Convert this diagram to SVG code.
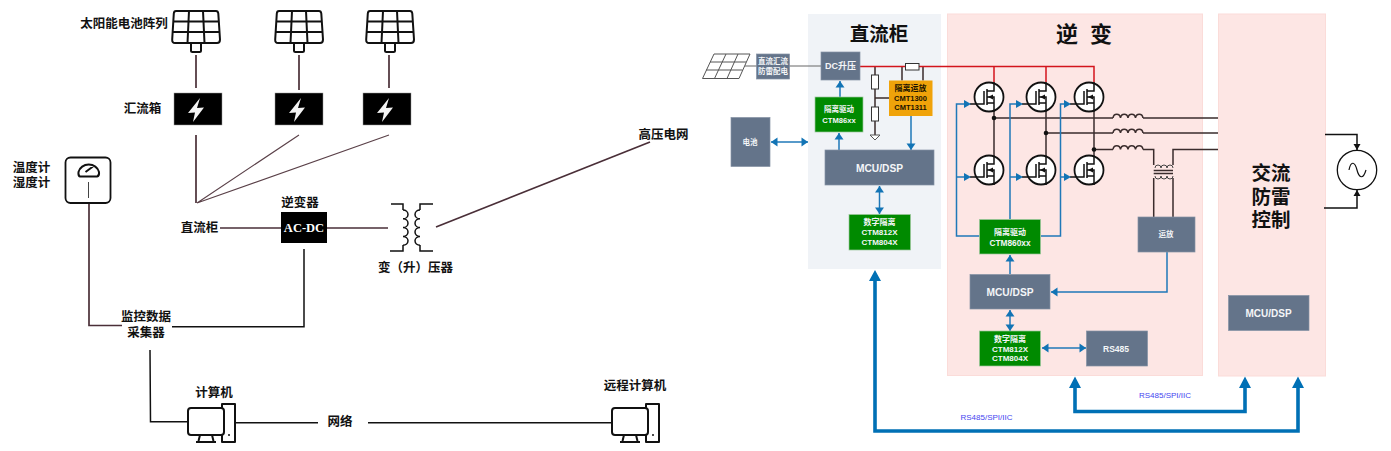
<svg xmlns="http://www.w3.org/2000/svg" xmlns:xlink="http://www.w3.org/1999/xlink" width="1391" height="451" viewBox="0 0 1391 451">
<style>
text{text-anchor:middle;dominant-baseline:central}
.lb{font:bold 12.500px "Liberation Serif","Noto Sans CJK SC",serif;fill:#111}
.acdc{font:bold 12.500px "Liberation Serif","Noto Sans CJK SC",serif;fill:#fff}
.ttl{font:bold 19.500px "Liberation Sans","Noto Sans CJK SC",sans-serif;fill:#111}
.ttl2{font:bold 22px "Liberation Sans","Noto Sans CJK SC",sans-serif;fill:#111}
.w{font-family:"Liberation Sans","Noto Sans CJK SC",sans-serif;font-weight:bold;fill:#f4f6f8}
.k{font-family:"Liberation Sans","Noto Sans CJK SC",sans-serif;font-weight:bold;fill:#1a1300}
.bus{font:8px "Liberation Sans",sans-serif;fill:#4545f0}
.grey{fill:#64748a;stroke:#8592a4;stroke-width:.7}
.green{fill:#008a00;stroke:#9cc79c;stroke-width:.7}
.wire{fill:none;stroke:#4a2f38;stroke-width:1.700}
.fine{fill:none;stroke:#5a4048;stroke-width:1.100}
.blk{fill:none;stroke:#111;stroke-width:1.500}
.dk{fill:none;stroke:#3a2c2c;stroke-width:1.500}
.blue{fill:none;stroke:#1f78b8;stroke-width:1.500}
.big{fill:none;stroke:#0070b5;stroke-width:3.600}
.ico{fill:none;stroke:#111;stroke-width:2;stroke-linejoin:round}
.thin{fill:none;stroke:#444;stroke-width:1}
.cab{fill:#fde6e4;stroke:#fbdcd9}
</style>
<defs>
<marker id="a" markerUnits="userSpaceOnUse" markerWidth="10" markerHeight="10" refX="8" refY="5" orient="auto-start-reverse"><path d="M1.500 0.500L8 5L1.500 9.500Z" fill="#1274b5"/></marker>
<marker id="ak" markerUnits="userSpaceOnUse" markerWidth="8" markerHeight="8" refX="7" refY="4" orient="auto"><path d="M1 .5L7 4L1 7.500Z" fill="#111"/></marker>
<symbol id="panel" overflow="visible"><path class="ico" d="M3 0H43Q45 0 45.300 2.500L47 28.500Q47 32 44 32H2Q-1 32 -.8 28.500L.8 2.500Q1 0 3 0ZM16 0L14.500 32M30 0L31.500 32M.4 10.500H45.800M-.2 21H46.500M18 32V39.500Q18 41 19.500 41H26.500Q28 41 28 39.500V32"/></symbol>
<symbol id="box" overflow="visible"><rect width="48" height="32" fill="#000" stroke="#999" stroke-width=".5"/><path d="M26 5L14 20L21 19.500L19 29L30 14.500L23 15Z" fill="#f4f4f4"/></symbol>
<symbol id="pc" overflow="visible"><path class="ico" d="M34 4V0H47V38H34V31M3 4H33Q36 4 36 7V28Q36 31 33 31H3Q0 31 0 28V7Q0 4 3 4ZM12 31L10.500 37M24 31L25.500 37M8 38H28"/><circle cx="41" cy="31" r="1" fill="#111"/></symbol>
<symbol id="fet" overflow="visible"><circle r="14.500" fill="#fff" stroke="#111" stroke-width="1.800"/><path fill="none" stroke="#111" stroke-width="1.500" d="M-19 7H-5V-6M-2 -8V8M-2 -6H5V-15M-2 6H5V15M-2 0H5V6"/><path d="M-1 0L4 -2.500V2.500Z" fill="#111"/></symbol>
<symbol id="coil" overflow="visible"><path class="dk" d="M0 0a3.800 4.500 0 0 1 7.500 0a3.800 4.500 0 0 1 7.500 0a3.800 4.500 0 0 1 7.500 0a3.800 4.500 0 0 1 7.500 0"/></symbol>
</defs>

<rect width="1391" height="451" fill="#fff"/>

<!-- cabinet backgrounds sit under all wiring -->
<g id="cabinets">
  <rect x="808" y="14" width="133" height="255" fill="#f0f3f7"/>
  <rect class="cab" x="947.500" y="14" width="255" height="361.500"/>
  <rect class="cab" x="1218.500" y="14" width="107" height="362"/>
</g>

<g id="connectors">
  <!-- plant-side wiring -->
  <path class="wire" d="M196 55V88M299 55V90M389 55V88M196 135V203"/>
  <path class="fine" d="M299 135L197 203M389 135L197 203"/>
  <path class="wire" d="M220 228H281M327 228H388M89 204V325.500H122"/>
  <path class="wire" stroke-width="2" d="M436 227L650 142"/>
  <path class="blk" d="M172 326.700H304V249M150 350L150.500 421.700H188M235 422.700H318M368 422.700H611"/>
  <!-- DC bus and sensing -->
  <path fill="none" stroke="#666" stroke-width="1" d="M745 66H821"/>
  <path class="dk" d="M875 67V75M875 89V107M875 121V135M875 98H889M902 66.500V80.500M923 66.500V80.500"/>
  <path fill="none" stroke="#d3141c" stroke-width="1.500" d="M860 66.500H1094V82M994 66.500V82M1046 66.500V82"/>
  <path class="dk" d="M994 112V155M1046 112V155M1094 112V155M994 118H1113M1143 118H1218M1046 133H1113M1143 133H1218M1094 149.500H1113M1143 149.500H1153.700V165M1153.700 178V217M1173 217V178M1173 165V149.500H1218"/>
  <path class="dk" d="M1153.700 170.600H1173M1153.700 173.400H1173"/>
  <path class="thin" d="M1155 168a3 3 0 0 1 6 0a3 3 0 0 1 6 0a3 3 0 0 1 6 0M1155 176a3 3 0 0 0 6 0a3 3 0 0 0 6 0a3 3 0 0 0 6 0"/>
  <!-- control links -->
  <path class="blue" marker-end="url(#a)" d="M840 97V81"/>
  <path class="blue" marker-end="url(#a)" d="M839 150V133"/>
  <path class="blue" marker-end="url(#a)" d="M911 116V150"/>
  <path class="blue" marker-start="url(#a)" marker-end="url(#a)" d="M771 142H808"/>
  <path class="blue" marker-start="url(#a)" marker-end="url(#a)" d="M879.500 186V214"/>
  <path class="blue" d="M979.500 236H956.500V104H965"/>
  <path class="blue" d="M956.500 177H965"/>
  <path class="blue" d="M1010 219V104H1017"/>
  <path class="blue" d="M1010 177H1017"/>
  <path class="blue" d="M1041 236H1060.500V104H1065"/>
  <path class="blue" d="M1060.500 177H1065"/>
  <path class="blue" marker-end="url(#a)" d="M1010 274V255"/>
  <path class="blue" marker-start="url(#a)" marker-end="url(#a)" d="M1010 310V331"/>
  <path class="blue" marker-start="url(#a)" marker-end="url(#a)" d="M1042 348H1086"/>
  <path class="blue" marker-end="url(#a)" d="M1167 252V292H1051"/>
  <!-- communication buses -->
  <path class="big" d="M875 280V431H1298V386M1075 386V411.500H1245V386"/>
  <path fill="#0070b5" d="M875 270L869 281H881ZM1075 376.500L1069 388H1081ZM1245 376.500L1239 388H1251ZM1298 376.500L1292 388H1304Z"/>
  <!-- AC output -->
  <path class="blk" marker-end="url(#ak)" d="M1325 134.500H1357V150"/>
  <path class="blk" marker-end="url(#ak)" d="M1324 208H1357V190"/>
</g>

<g id="pv-array">
  <use xlink:href="#panel" href="#panel" x="173" y="11"/>
  <use xlink:href="#panel" href="#panel" x="276" y="11"/>
  <use xlink:href="#panel" href="#panel" x="367" y="11"/>
  <text class="lb" x="124" y="24">太阳能电池阵列</text>
</g>
<g id="combiner">
  <use xlink:href="#box" href="#box" x="174" y="93"/>
  <use xlink:href="#box" href="#box" x="275" y="93"/>
  <use xlink:href="#box" href="#box" x="363" y="93"/>
  <text class="lb" x="142.500" y="109">汇流箱</text>
</g>
<g id="sensor">
  <rect x="65.500" y="157.500" width="45" height="45.500" rx="5" fill="#fff" stroke="#111" stroke-width="1.800"/>
  <path class="ico" stroke-width="1.500" d="M80 176.500H97Q99.500 176 99 172A10.500 9.500 0 0 0 78.500 172Q78 176 80 176.500ZM85.500 172L93 166.500"/>
  <path class="thin" stroke="#111" d="M88.500 182V198"/>
  <text class="lb" x="31.500" y="168">温度计</text>
  <text class="lb" x="31.500" y="183">湿度计</text>
</g>
<g id="dc-cabinet-label"><text class="lb" x="199.500" y="228">直流柜</text></g>
<g id="inverter-unit">
  <rect x="281" y="212" width="46" height="31" fill="#000"/>
  <text class="acdc" x="304" y="228">AC-DC</text>
  <text class="lb" x="300" y="203">逆变器</text>
</g>
<g id="transformer">
  <path class="blk" d="M391 204H403V210M403 245V251H390M433 204H420V210M420 245V251H433"/>
  <path class="blk" d="M403 210a5 4.400 0 0 1 0 8.800a5 4.400 0 0 1 0 8.800a5 4.400 0 0 1 0 8.800a5 4.400 0 0 1 0 8.800M420 210a5 4.400 0 0 0 0 8.800a5 4.400 0 0 0 0 8.800a5 4.400 0 0 0 0 8.800a5 4.400 0 0 0 0 8.800"/>
  <text class="lb" x="415.500" y="268">变（升）压器</text>
</g>
<g id="grid"><text class="lb" x="663.500" y="135">高压电网</text></g>
<g id="collector">
  <text class="lb" x="146" y="317">监控数据</text>
  <text class="lb" x="146" y="333">采集器</text>
</g>
<g id="local-pc">
  <use xlink:href="#pc" href="#pc" x="188" y="404"/>
  <text class="lb" x="214" y="393">计算机</text>
</g>
<g id="network"><text class="lb" x="340" y="422">网络</text></g>
<g id="remote-pc">
  <use xlink:href="#pc" href="#pc" x="612" y="404"/>
  <text class="lb" x="635" y="386">远程计算机</text>
</g>

<g id="pv-source">
  <path fill="#fff" stroke="#555" stroke-width="1" d="M714 54H750L739 78.500H702.500ZM726 54L714.500 78.500M738 54L727 78.500M710 62H746M706 70H742.500"/>
  <rect class="grey" x="756.500" y="54" width="33" height="25"/>
  <text class="w" font-size="7.500" x="773" y="61.500">直流汇流</text>
  <text class="w" font-size="7.500" x="773" y="71">防雷配电</text>
</g>
<g id="battery">
  <rect class="grey" x="731" y="117.500" width="39" height="49"/>
  <text class="w" font-size="7.500" x="750" y="142">电池</text>
</g>

<g id="dc-cabinet">
  <text class="ttl" x="879" y="34">直流柜</text>
  <rect class="grey" x="821" y="52" width="39" height="28"/>
  <text class="w" font-size="9" x="840.500" y="66">DC升压</text>
  <rect class="green" x="815" y="97" width="48" height="35"/>
  <text class="w" font-size="7.500" x="839" y="109.500">隔离驱动</text>
  <text class="w" font-size="7.600" x="839" y="120">CTM86xx</text>
  <rect x="871.500" y="75" width="7" height="14" fill="#fff" stroke="#333"/>
  <rect x="871.500" y="107" width="7" height="14" fill="#fff" stroke="#333"/>
  <path fill="#fff" stroke="#555" d="M870 135H880L875 140Z"/>
  <rect x="905.500" y="63.500" width="13.500" height="6.500" fill="#fff" stroke="#333"/>
  <rect x="889" y="80.500" width="43.500" height="35.500" fill="#f0a30a"/>
  <text class="k" font-size="8" x="910.500" y="88.500">隔离运放</text>
  <text class="k" font-size="7.500" x="910.500" y="98">CMT1300</text>
  <text class="k" font-size="7.500" x="910.500" y="107.500">CMT1311</text>
  <rect class="grey" x="825" y="150" width="109" height="35"/>
  <text class="w" font-size="10.200" x="879.500" y="168">MCU/DSP</text>
  <rect class="green" x="849" y="214.500" width="61.500" height="35.500"/>
  <text class="w" font-size="8" x="879.500" y="222.500">数字隔离</text>
  <text class="w" font-size="8" x="879.500" y="232.500">CTM812X</text>
  <text class="w" font-size="8" x="879.500" y="242">CTM804X</text>
</g>

<g id="inverter">
  <text class="ttl2" x="1067" y="34">逆</text>
  <text class="ttl2" x="1101" y="34">变</text>
  <use xlink:href="#fet" href="#fet" x="989" y="97"/>
  <use xlink:href="#fet" href="#fet" x="1041" y="97"/>
  <use xlink:href="#fet" href="#fet" x="1089" y="97"/>
  <use xlink:href="#fet" href="#fet" x="989" y="170"/>
  <use xlink:href="#fet" href="#fet" x="1041" y="170"/>
  <use xlink:href="#fet" href="#fet" x="1089" y="170"/>
  <!-- gate arrowheads, drawn above the gate leads -->
  <path fill="#1274b5" d="M964 100L971 104L964 108ZM964 173L971 177L964 181ZM1016 100L1023 104L1016 108ZM1016 173L1023 177L1016 181ZM1064 100L1071 104L1064 108ZM1064 173L1071 177L1064 181Z"/>
  <circle cx="994" cy="118" r="2.300" fill="#111"/>
  <circle cx="1046" cy="133" r="2.300" fill="#111"/>
  <circle cx="1094" cy="149.500" r="2.300" fill="#111"/>
  <use xlink:href="#coil" href="#coil" x="1113" y="118"/>
  <use xlink:href="#coil" href="#coil" x="1113" y="133"/>
  <use xlink:href="#coil" href="#coil" x="1113" y="149.500"/>
  <rect class="green" x="979.500" y="219.500" width="61" height="34.500"/>
  <text class="w" font-size="8" x="1010" y="232">隔离驱动</text>
  <text class="w" font-size="8.300" x="1010" y="242.500">CTM860xx</text>
  <rect class="grey" x="1138" y="217" width="57" height="35"/>
  <text class="w" font-size="7.500" x="1166" y="234">运放</text>
  <rect class="grey" x="970" y="274.500" width="80" height="34.500"/>
  <text class="w" font-size="10.200" x="1010" y="292">MCU/DSP</text>
  <rect class="green" x="979.500" y="331" width="61" height="35"/>
  <text class="w" font-size="8" x="1010" y="339">数字隔离</text>
  <text class="w" font-size="8" x="1010" y="349">CTM812X</text>
  <text class="w" font-size="8" x="1010" y="358.500">CTM804X</text>
  <rect class="grey" x="1086.500" y="331" width="61" height="35"/>
  <text class="w" font-size="8.500" x="1116" y="349">RS485</text>
</g>

<g id="ac-protection">
  <text class="ttl" x="1271" y="172.500">交流</text>
  <text class="ttl" x="1271" y="196.500">防雷</text>
  <text class="ttl" x="1271" y="219.500">控制</text>
  <rect class="grey" x="1228.500" y="295.500" width="80.500" height="35"/>
  <text class="w" font-size="10" x="1268.500" y="313">MCU/DSP</text>
</g>

<g id="ac-grid">
  <circle cx="1357" cy="170" r="19.700" fill="#fff" stroke="#111" stroke-width="1.300"/>
  <path fill="none" stroke="#111" stroke-width="1.200" d="M1349 170C1351 160 1355 162 1357 170S1363 180 1366 170"/>
</g>

<g id="bus-labels">
  <text class="bus" x="1165" y="395">RS485/SPI/IIC</text>
  <text class="bus" x="986.500" y="417">RS485/SPI/IIC</text>
</g>
</svg>
